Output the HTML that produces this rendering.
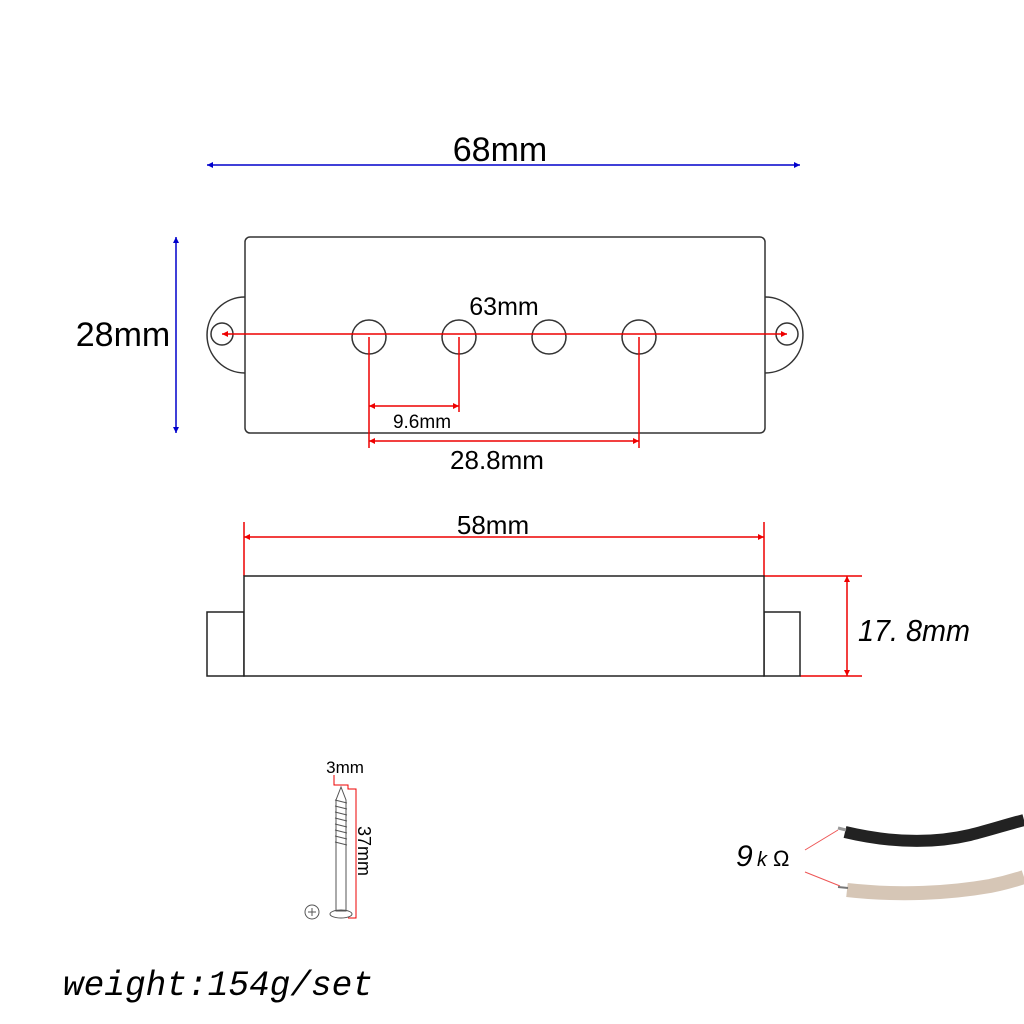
<!DOCTYPE html>
<html><head><style>html,body{margin:0;padding:0;background:#fff}svg{display:block}</style></head>
<body>
<svg width="1024" height="1024" viewBox="0 0 1024 1024" xmlns="http://www.w3.org/2000/svg">
<defs>
<marker id="ab" viewBox="0 0 10 10" refX="10" refY="5" markerWidth="8" markerHeight="6" orient="auto-start-reverse" markerUnits="userSpaceOnUse"><path d="M0,0L10,5L0,10z" fill="#0000cc"/></marker>
<marker id="ar" viewBox="0 0 10 10" refX="10" refY="5" markerWidth="10" markerHeight="6" orient="auto-start-reverse" markerUnits="userSpaceOnUse"><path d="M0,0L10,5L0,10z" fill="#e00"/></marker>
</defs>
<g font-family="Liberation Sans, sans-serif">
<line x1="207" y1="165" x2="800" y2="165" stroke="#0000cc" stroke-width="1.5" marker-start="url(#ab)" marker-end="url(#ab)"/>
<text x="500" y="161" font-size="34" text-anchor="middle">68mm</text>
<line x1="176" y1="237" x2="176" y2="433" stroke="#0000cc" stroke-width="1.5" marker-start="url(#ab)" marker-end="url(#ab)"/>
<text x="123" y="346" font-size="34" text-anchor="middle">28mm</text>
<g fill="none" stroke="#333" stroke-width="1.5">
<path d="M245,297 A38,38 0 0 0 245,373"/>
<path d="M765,297 A38,38 0 0 1 765,373"/>
<rect x="245" y="237" width="520" height="196" rx="5" fill="#fff"/>
<circle cx="222" cy="334" r="11"/><circle cx="787" cy="334" r="11"/>
<circle cx="369" cy="337" r="17"/><circle cx="459" cy="337" r="17"/><circle cx="549" cy="337" r="17"/><circle cx="639" cy="337" r="17"/>
</g>
<g stroke="#e00" stroke-width="1.5" fill="none">
<line x1="222" y1="334" x2="787" y2="334" marker-start="url(#ar)" marker-end="url(#ar)"/>
<line x1="369" y1="337" x2="369" y2="448"/>
<line x1="459" y1="337" x2="459" y2="412"/>
<line x1="639" y1="337" x2="639" y2="448"/>
<line x1="369" y1="406" x2="459" y2="406" marker-start="url(#ar)" marker-end="url(#ar)"/>
<line x1="369" y1="441" x2="639" y2="441" marker-start="url(#ar)" marker-end="url(#ar)"/>
<line x1="244" y1="522" x2="244" y2="576"/>
<line x1="764" y1="522" x2="764" y2="576"/>
<line x1="244" y1="537" x2="764" y2="537" marker-start="url(#ar)" marker-end="url(#ar)"/>
<line x1="764" y1="576" x2="862" y2="576"/>
<line x1="800" y1="676" x2="862" y2="676"/>
<line x1="847" y1="576" x2="847" y2="676" marker-start="url(#ar)" marker-end="url(#ar)"/>
</g>
<text x="504" y="315" font-size="25" text-anchor="middle">63mm</text>
<text x="422" y="428" font-size="19" text-anchor="middle">9.6mm</text>
<text x="497" y="469" font-size="26" text-anchor="middle">28.8mm</text>
<text x="493" y="534" font-size="26" text-anchor="middle">58mm</text>
<g fill="#fff" stroke="#222" stroke-width="1.5">
<rect x="207" y="612" width="37" height="64"/>
<rect x="764" y="612" width="36" height="64"/>
<rect x="244" y="576" width="520" height="100"/>
</g>
<text x="858" y="641" font-size="31" font-style="italic" textLength="112" lengthAdjust="spacingAndGlyphs">17. 8mm</text>
<text x="345" y="773" font-size="17" text-anchor="middle">3mm</text>
<path d="M334,775 L334,785 L348,785 L348,789 L356,789 L356,918 L348,918" fill="none" stroke="#e00" stroke-width="1"/>
<text x="0" y="0" font-size="18" transform="translate(358,826) rotate(90)">37mm</text>
<g stroke="#555" stroke-width="1" fill="none">
<path d="M341,787 L336,800 L336,911 L346,911 L346,800 Z"/>
<path d="M335,800 L347,803 M335,806 L347,809 M335,812 L347,815 M335,818 L347,821 M335,824 L347,827 M335,830 L347,833 M335,836 L347,839 M335,842 L347,845"/>
<ellipse cx="341" cy="914" rx="11" ry="4"/>
<circle cx="312" cy="912" r="7"/>
<path d="M308,912 L316,912 M312,908 L312,916"/>
</g>
<path d="M805,850 L838,830 M805,872 L840,886" stroke="#e55" stroke-width="1"/>
<text x="736" y="866" font-size="30" font-style="italic">9</text>
<text x="757" y="866" font-size="20" font-style="italic">k</text>
<text x="773" y="866" font-size="22">Ω</text>
<path d="M845,832 C900,845 940,842 970,835 C990,830 1005,825 1024,820" stroke="#222" stroke-width="12" fill="none"/>
<path d="M847,890 C900,896 950,893 990,886 C1005,883 1015,880 1024,877" stroke="#d6c6b6" stroke-width="14" fill="none"/>
<line x1="838" y1="828" x2="846" y2="830" stroke="#999" stroke-width="3"/>
<line x1="838" y1="887" x2="848" y2="888" stroke="#777" stroke-width="2"/>
</g>
<text x="63" y="995" font-family="Liberation Mono, monospace" font-style="italic" font-size="35" textLength="310" lengthAdjust="spacingAndGlyphs">weight:154g/set</text>
</svg>
</body></html>
